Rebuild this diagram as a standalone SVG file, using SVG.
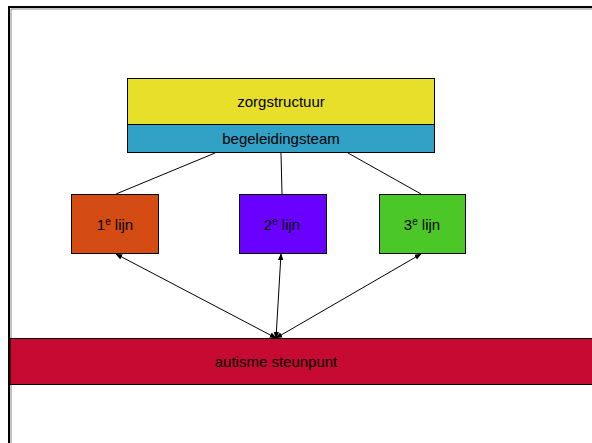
<svg xmlns="http://www.w3.org/2000/svg" width="592" height="443" viewBox="0 0 592 443">
<style>
.box{stroke:#000;stroke-width:1}
.lbl{font-family:"Liberation Sans",Arial,sans-serif;font-size:15px;fill:#000;text-anchor:middle}
.ln{stroke:#000;stroke-width:1;fill:none}
</style>
<defs>
<marker id="ah" viewBox="0 0 10 10" refX="9" refY="5" markerWidth="7" markerHeight="7" orient="auto-start-reverse" markerUnits="userSpaceOnUse">
<path d="M0,1 L10,5 L0,9 z" fill="#000"/>
</marker>
</defs>
<rect width="592" height="443" fill="#fff"/>
<path d="M9,443 V7 H592" fill="none" stroke="#000" stroke-width="2"/>
<path d="M11,443 V9 H592" fill="none" stroke="#888" stroke-width="1"/>
<g id="zorgstructuur">
<rect class="box" x="127.5" y="78.5" width="307" height="46" fill="#e8df2a"/>
<text class="lbl" x="281" y="107">zorgstructuur</text>
</g>
<g id="begeleidingsteam">
<rect class="box" x="127.5" y="124.5" width="307" height="28" fill="#31a1c6"/>
<text class="lbl" x="281" y="144">begeleidingsteam</text>
</g>
<g id="lijn1">
<rect class="box" x="71.5" y="194.5" width="87" height="59" fill="#d44b14"/>
<text class="lbl" x="115" y="230">1<tspan font-size="10" dy="-5">e</tspan><tspan dy="5"> lijn</tspan></text>
</g>
<g id="lijn2">
<rect class="box" x="239.5" y="194.5" width="87" height="59" fill="#6a00ff" stroke="#2a0060"/>
<text class="lbl" x="282" y="230">2<tspan font-size="10" dy="-5">e</tspan><tspan dy="5"> lijn</tspan></text>
</g>
<g id="lijn3">
<rect class="box" x="379.5" y="194.5" width="86" height="59" fill="#4bc828"/>
<text class="lbl" x="422" y="230">3<tspan font-size="10" dy="-5">e</tspan><tspan dy="5"> lijn</tspan></text>
</g>
<g id="steunpunt">
<rect class="box" x="10" y="338.5" width="590" height="46" fill="#c60a31"/>
<text class="lbl" x="276" y="367">autisme steunpunt</text>
</g>
<g id="connectors">
<line class="ln" x1="215" y1="153" x2="116" y2="194"/>
<line class="ln" x1="281" y1="153" x2="282" y2="194"/>
<line class="ln" x1="348" y1="153" x2="421" y2="194"/>
<line class="ln" x1="276" y1="338" x2="116" y2="254" marker-start="url(#ah)" marker-end="url(#ah)"/>
<line class="ln" x1="276" y1="338" x2="281" y2="254" marker-start="url(#ah)" marker-end="url(#ah)"/>
<line class="ln" x1="276" y1="338" x2="421" y2="254" marker-start="url(#ah)" marker-end="url(#ah)"/>
</g>
</svg>
